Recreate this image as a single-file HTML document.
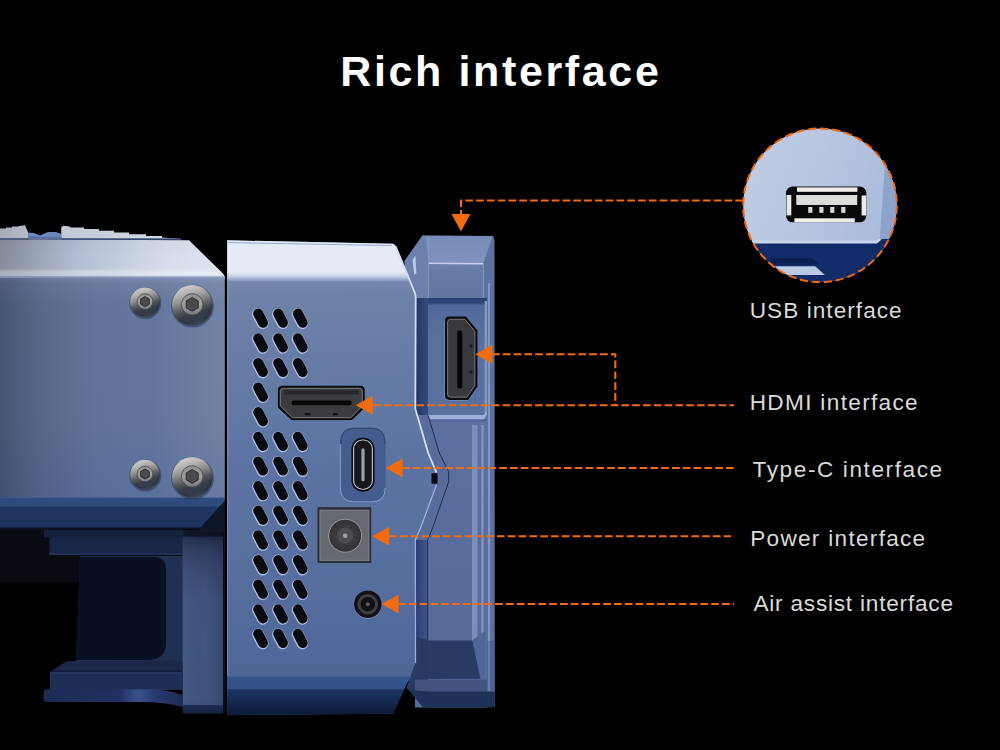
<!DOCTYPE html>
<html lang="en">
<head>
<meta charset="utf-8">
<title>Rich interface</title>
<style>
html,body{margin:0;padding:0;background:#000;}
body{width:1000px;height:750px;overflow:hidden;font-family:"Liberation Sans",sans-serif;}
svg{display:block;}
</style>
</head>
<body>
<svg width="1000" height="750" viewBox="0 0 1000 750">
<defs>
<linearGradient id="gAtopH" gradientUnits="userSpaceOnUse" x1="0" y1="0" x2="224" y2="0">
  <stop offset="0.0000" stop-color="#848b9d"/>
  <stop offset="0.0893" stop-color="#9098ab"/>
  <stop offset="0.1786" stop-color="#9da5b9"/>
  <stop offset="0.3571" stop-color="#b5bfd4"/>
  <stop offset="0.5804" stop-color="#c8d1e3"/>
  <stop offset="0.7589" stop-color="#d6deed"/>
  <stop offset="1.0000" stop-color="#dde4f1"/>
</linearGradient>
<linearGradient id="gAtop" gradientUnits="userSpaceOnUse" x1="0" y1="239" x2="0" y2="278">
  <stop offset="0.0000" stop-color="#000000" stop-opacity="0.03"/>
  <stop offset="0.7436" stop-color="#ffffff" stop-opacity="0.0"/>
  <stop offset="0.8462" stop-color="#ffffff" stop-opacity="0.3"/>
  <stop offset="0.9308" stop-color="#ffffff" stop-opacity="0.3"/>
  <stop offset="0.9564" stop-color="#8797b8" stop-opacity="0.5"/>
  <stop offset="1.0000" stop-color="#7888ad" stop-opacity="1"/>
</linearGradient>
<linearGradient id="gRidgeH" gradientUnits="userSpaceOnUse" x1="0" y1="0" x2="180" y2="0">
  <stop offset="0.0000" stop-color="#a6abb7"/>
  <stop offset="0.1556" stop-color="#b6bbc7"/>
  <stop offset="0.3389" stop-color="#c2c8d5"/>
  <stop offset="0.6667" stop-color="#cbd1dd"/>
  <stop offset="1.0000" stop-color="#d8deea"/>
</linearGradient>
<linearGradient id="gA" gradientUnits="userSpaceOnUse" x1="0" y1="276" x2="0" y2="498">
  <stop offset="0.0000" stop-color="#8a99ba"/>
  <stop offset="0.0135" stop-color="#7888ad"/>
  <stop offset="0.0360" stop-color="#6b7ea4"/>
  <stop offset="0.1306" stop-color="#63779d"/>
  <stop offset="0.6486" stop-color="#62769c"/>
  <stop offset="1.0000" stop-color="#5a6f9a"/>
</linearGradient>
<linearGradient id="gAshade" gradientUnits="userSpaceOnUse" x1="0" y1="0" x2="224" y2="0">
  <stop offset="0.0000" stop-color="#0a1020" stop-opacity="0.32"/>
  <stop offset="0.2009" stop-color="#0a1020" stop-opacity="0.13"/>
  <stop offset="0.4241" stop-color="#0a1020" stop-opacity="0.03"/>
  <stop offset="0.6027" stop-color="#0a1020" stop-opacity="0"/>
  <stop offset="0.6696" stop-color="#ffffff" stop-opacity="0"/>
  <stop offset="1.0000" stop-color="#ffffff" stop-opacity="0.09"/>
</linearGradient>
<linearGradient id="gAbev" gradientUnits="userSpaceOnUse" x1="0" y1="497" x2="0" y2="530">
  <stop offset="0.0000" stop-color="#48618f"/>
  <stop offset="0.0364" stop-color="#2f4c80"/>
  <stop offset="0.2727" stop-color="#2d4a7c"/>
  <stop offset="0.3091" stop-color="#203663"/>
  <stop offset="0.9091" stop-color="#1e335d"/>
  <stop offset="0.9394" stop-color="#0b1324"/>
  <stop offset="1.0000" stop-color="#091020"/>
</linearGradient>
<linearGradient id="gBtop" gradientUnits="userSpaceOnUse" x1="0" y1="240" x2="0" y2="281">
  <stop offset="0.0000" stop-color="#dfe4f1"/>
  <stop offset="0.0976" stop-color="#e6eaf4"/>
  <stop offset="0.7805" stop-color="#e6eaf4"/>
  <stop offset="0.8780" stop-color="#c9d2e6"/>
  <stop offset="1.0000" stop-color="#8597be"/>
</linearGradient>
<linearGradient id="gB" gradientUnits="userSpaceOnUse" x1="0" y1="241" x2="0" y2="715">
  <stop offset="0.0802" stop-color="#7b8eb4"/>
  <stop offset="0.0886" stop-color="#7186ac"/>
  <stop offset="0.1139" stop-color="#6b80a6"/>
  <stop offset="0.2300" stop-color="#667ba5"/>
  <stop offset="0.3776" stop-color="#5f77a4"/>
  <stop offset="0.4831" stop-color="#5b72a2"/>
  <stop offset="0.6414" stop-color="#5870a0"/>
  <stop offset="0.7574" stop-color="#556c9d"/>
  <stop offset="0.8629" stop-color="#50689a"/>
  <stop offset="0.9198" stop-color="#4f6595"/>
</linearGradient>
<linearGradient id="gBshade" gradientUnits="userSpaceOnUse" x1="227" y1="290" x2="370" y2="520"><stop offset="0" stop-color="#fff" stop-opacity="0.02"/><stop offset="0.5" stop-color="#fff" stop-opacity="0.01"/><stop offset="1" stop-color="#fff" stop-opacity="0"/></linearGradient>
<linearGradient id="gBbev" gradientUnits="userSpaceOnUse" x1="0" y1="676" x2="0" y2="715">
  <stop offset="0.0000" stop-color="#4b6396"/>
  <stop offset="0.0385" stop-color="#32548b"/>
  <stop offset="0.3205" stop-color="#305289"/>
  <stop offset="0.3538" stop-color="#1c3463"/>
  <stop offset="0.6154" stop-color="#162a52"/>
  <stop offset="0.9615" stop-color="#0e1b3a"/>
</linearGradient>
<linearGradient id="gCtop" gradientUnits="userSpaceOnUse" x1="0" y1="236" x2="0" y2="263">
  <stop offset="0.0000" stop-color="#788cb8"/>
  <stop offset="1.0000" stop-color="#7f93be"/>
</linearGradient>
<linearGradient id="gCfront" gradientUnits="userSpaceOnUse" x1="0" y1="263" x2="0" y2="298">
  <stop offset="0.0000" stop-color="#7084ad"/>
  <stop offset="0.2000" stop-color="#677ca4"/>
  <stop offset="1.0000" stop-color="#62779f"/>
</linearGradient>
<linearGradient id="gCrec" gradientUnits="userSpaceOnUse" x1="0" y1="298" x2="0" y2="415">
  <stop offset="0.0000" stop-color="#2a3f73"/>
  <stop offset="0.0427" stop-color="#2f4578"/>
  <stop offset="0.0641" stop-color="#52689a"/>
  <stop offset="0.3590" stop-color="#5a70a0"/>
  <stop offset="1.0000" stop-color="#5a70a0"/>
</linearGradient>
<linearGradient id="gClow" gradientUnits="userSpaceOnUse" x1="0" y1="419" x2="0" y2="641">
  <stop offset="0.0000" stop-color="#4a6095"/>
  <stop offset="0.0158" stop-color="#5c719f"/>
  <stop offset="0.4550" stop-color="#586d9b"/>
  <stop offset="1.0000" stop-color="#566b99"/>
</linearGradient>
<linearGradient id="gCshadow" gradientUnits="userSpaceOnUse" x1="415" y1="0" x2="428" y2="0">
  <stop offset="0.0000" stop-color="#2a3d70"/>
  <stop offset="0.4615" stop-color="#34497e"/>
  <stop offset="1.0000" stop-color="#42588d"/>
</linearGradient>
<linearGradient id="gCshadowU" gradientUnits="userSpaceOnUse" x1="416" y1="0" x2="428" y2="0">
  <stop offset="0.0000" stop-color="#253868"/>
  <stop offset="0.5833" stop-color="#2e4273"/>
  <stop offset="1.0000" stop-color="#364b7e"/>
</linearGradient>
<linearGradient id="gPillar" gradientUnits="userSpaceOnUse" x1="0" y1="530" x2="0" y2="714">
  <stop offset="0.0000" stop-color="#0b1120"/>
  <stop offset="0.0326" stop-color="#0d1424"/>
  <stop offset="0.0408" stop-color="#212d4b"/>
  <stop offset="0.1033" stop-color="#2e3d60"/>
  <stop offset="0.2065" stop-color="#384970"/>
  <stop offset="0.3804" stop-color="#3f547d"/>
  <stop offset="0.9239" stop-color="#3f5580"/>
  <stop offset="0.9484" stop-color="#3d527c"/>
  <stop offset="0.9538" stop-color="#1c2c50"/>
  <stop offset="0.9946" stop-color="#16233f"/>
</linearGradient>
<linearGradient id="gPillarH" gradientUnits="userSpaceOnUse" x1="183" y1="0" x2="223" y2="0">
  <stop offset="0.0000" stop-color="#ffffff" stop-opacity="0.03"/>
  <stop offset="0.5500" stop-color="#000000" stop-opacity="0"/>
  <stop offset="1.0000" stop-color="#000000" stop-opacity="0.14"/>
</linearGradient>
<linearGradient id="gBack" gradientUnits="userSpaceOnUse" x1="0" y1="529" x2="0" y2="584">
  <stop offset="0.0000" stop-color="#0a0c13"/>
  <stop offset="0.9455" stop-color="#090b11"/>
  <stop offset="1.0000" stop-color="#000000"/>
</linearGradient>
<linearGradient id="gLip" gradientUnits="userSpaceOnUse" x1="44" y1="0" x2="182" y2="0">
  <stop offset="0.0000" stop-color="#1b2b55"/>
  <stop offset="0.5507" stop-color="#203262"/>
  <stop offset="0.6812" stop-color="#3a528c"/>
  <stop offset="0.8043" stop-color="#263a6c"/>
  <stop offset="1.0000" stop-color="#1c2c54"/>
</linearGradient>
  <linearGradient id="gScrewV" x1="0.3" y1="0" x2="0.62" y2="1">
    <stop offset="0" stop-color="#d2d2d0"/>
    <stop offset="0.2" stop-color="#b4b4b2"/>
    <stop offset="0.4" stop-color="#8a8a89"/>
    <stop offset="0.58" stop-color="#55575c"/>
    <stop offset="0.72" stop-color="#383d48"/>
    <stop offset="0.88" stop-color="#333b4c"/>
    <stop offset="1" stop-color="#55617a"/>
  </linearGradient>
  <radialGradient id="gScrewR" cx="0.45" cy="0.4" r="0.62">
    <stop offset="0.8" stop-color="#1a1c22" stop-opacity="0"/>
    <stop offset="1" stop-color="#1a1c22" stop-opacity="0.5"/>
  </radialGradient>
  <linearGradient id="gRing" x1="0" y1="0" x2="0" y2="1">
    <stop offset="0" stop-color="#8f8f8d"/>
    <stop offset="0.5" stop-color="#a2a2a0"/>
    <stop offset="1" stop-color="#77787a"/>
  </linearGradient>
  <radialGradient id="gPow" cx="0.5" cy="0.5" r="0.5">
    <stop offset="0" stop-color="#55575b"/>
    <stop offset="0.5" stop-color="#3b3c40"/>
    <stop offset="1" stop-color="#313236"/>
  </radialGradient>
  <linearGradient id="gUsbBg" x1="0" y1="0" x2="1" y2="0.4">
    <stop offset="0" stop-color="#c2cee5"/>
    <stop offset="0.5" stop-color="#b8c6e0"/>
    <stop offset="1" stop-color="#a9bbdc"/>
  </linearGradient>
  <clipPath id="clipCircle"><circle cx="820" cy="205.3" r="76.8"/></clipPath>
</defs>
<rect width="1000" height="750" fill="#000"/>

<!-- ===== under section A ===== -->
<rect x="0" y="528" width="183" height="55" fill="url(#gBack)"/>
<polygon points="80,556 183,556 183,662 76,662" fill="#212f52"/>
<path d="M80,557 H154 Q166,557 166,569 V642 Q166.7,660 147,660 H76 Z" fill="#0a1024"/>
<rect x="44" y="529.6" width="139" height="8" fill="#14213d"/>
<rect x="49.5" y="537.4" width="133.5" height="17.6" fill="#182747"/>
<rect x="49.5" y="553" width="133.5" height="2" fill="#1c3058"/>
<polygon points="68,661 182.5,660.5 182.5,672 50,672 63.6,663" fill="#1b2848"/>
<rect x="50" y="671.5" width="132.5" height="18.5" fill="#1f2e55"/>
<rect x="50" y="672.6" width="132.5" height="1" fill="#2c3f6c"/>
<rect x="50" y="670.5" width="132.5" height="1.2" fill="#0f1830"/>
<path d="M46,689.3 H150 Q170,690 182.5,695 V707 Q165,702 140,702 H47 Q43.6,702 43.6,698.5 V691.5 Q43.6,689.3 46,689.3 Z" fill="url(#gLip)"/>
<rect x="182.6" y="530" width="40.6" height="183.5" fill="url(#gPillar)"/>
<rect x="182.6" y="530" width="40.6" height="175" fill="url(#gPillarH)"/>
<rect x="223.2" y="530" width="2" height="183" fill="#0a0f1c"/>

<!-- ===== section A ===== -->
<polygon points="0,228.6 6,228.6 6,227.5 12,227.5 12,226.5 19,226.5 19,226 25,225.2 28,232 28.4,238.6 0,238.6" fill="url(#gRidgeH)"/>
<polygon points="61.2,238.6 61.2,227.5 63,225.8 70,226.5 70,227.5 84,227.5 84,229 99,229 99,230.8 114,230.8 114,232.5 129,232.5 129,234.2 146,234.2 146,236 162,236 162,237.4 180,238.8" fill="url(#gRidgeH)"/>
<polygon points="28,232.5 34,233 40,235.5 48,232 56,232 61.2,234 61.2,239 28.4,239" fill="#6f88bd"/>
<polygon points="30,236 44,237 61.2,236.5 61.2,239.5 29,239.5" fill="#5a70a2"/>
<rect x="0" y="276" width="224.8" height="222.5" fill="url(#gA)"/>
<rect x="0" y="276" width="224.8" height="222.5" fill="url(#gAshade)"/>
<path d="M0,239.3 L189,240.3 L221.5,272 Q224.6,274.5 224.8,278 L0,278 Z" fill="url(#gAtopH)"/>
<path d="M0,239.3 L189,240.3 L221.5,272 Q224.6,274.5 224.8,278 L0,278 Z" fill="url(#gAtop)"/>
<rect x="61" y="238.4" width="120" height="1.3" fill="#4a6297"/>
<rect x="0" y="238.4" width="28" height="1.3" fill="#4f5f88"/>
<polygon points="0,497.5 224.8,497.5 224.8,501 199.2,529.5 0,529.5" fill="url(#gAbev)"/>
<polygon points="224.8,501 224.8,532 198,532 199.2,529.5" fill="#0e1629"/>
<!-- screws -->
<g>
  <circle cx="145.3" cy="303.2" r="16.0" fill="#27344f" opacity="0.55"/>
  <circle cx="145" cy="302.2" r="14.8" fill="url(#gScrewV)"/>
  <circle cx="145" cy="302.2" r="14.8" fill="url(#gScrewR)"/>
  <circle cx="145" cy="301.608" r="7.84" fill="url(#gRing)" stroke="#44464a" stroke-width="0.8"/>
  <polygon points="149.3,304.1 145.0,306.6 140.7,304.1 140.7,299.1 145.0,296.6 149.3,299.1" fill="#4b4b4d" stroke="#2a2b2e" stroke-width="1"/>
</g>
<g>
  <circle cx="192.5" cy="306.2" r="21.4" fill="#27344f" opacity="0.55"/>
  <circle cx="192.2" cy="305.2" r="20.2" fill="url(#gScrewV)"/>
  <circle cx="192.2" cy="305.2" r="20.2" fill="url(#gScrewR)"/>
  <circle cx="192.2" cy="304.392" r="10.71" fill="url(#gRing)" stroke="#44464a" stroke-width="0.8"/>
  <polygon points="198.2,307.8 192.2,311.3 186.2,307.8 186.2,300.9 192.2,297.5 198.2,300.9" fill="#4b4b4d" stroke="#2a2b2e" stroke-width="1"/>
</g>
<g>
  <circle cx="145.3" cy="475.6" r="16.0" fill="#27344f" opacity="0.55"/>
  <circle cx="145" cy="474.6" r="14.8" fill="url(#gScrewV)"/>
  <circle cx="145" cy="474.6" r="14.8" fill="url(#gScrewR)"/>
  <circle cx="145" cy="474.00800000000004" r="7.84" fill="url(#gRing)" stroke="#44464a" stroke-width="0.8"/>
  <polygon points="149.3,476.5 145.0,479.0 140.7,476.5 140.7,471.5 145.0,469.0 149.3,471.5" fill="#4b4b4d" stroke="#2a2b2e" stroke-width="1"/>
</g>
<g>
  <circle cx="192.5" cy="478.2" r="21.4" fill="#27344f" opacity="0.55"/>
  <circle cx="192.2" cy="477.2" r="20.2" fill="url(#gScrewV)"/>
  <circle cx="192.2" cy="477.2" r="20.2" fill="url(#gScrewR)"/>
  <circle cx="192.2" cy="476.392" r="10.71" fill="url(#gRing)" stroke="#44464a" stroke-width="0.8"/>
  <polygon points="198.2,479.8 192.2,483.3 186.2,479.8 186.2,472.9 192.2,469.5 198.2,472.9" fill="#4b4b4d" stroke="#2a2b2e" stroke-width="1"/>
</g>

<!-- ===== section C ===== -->
<!-- base fill -->
<polygon points="404.5,261 422.7,235.3 493,236 494.3,240 494.5,707 422.5,706.7 410,689 405,660" fill="#5b72a0"/>
<!-- left bevel -->
<polygon points="422.7,235.3 427.5,237 428.5,300 412,300 404.5,261" fill="#6b80ad"/>
<polygon points="412.6,260 415.4,255.5 416.4,273 414.2,275" fill="#cbd6ee" opacity="0.85"/>
<!-- top bevel -->
<polygon points="425.4,236 493,236 483.5,263.2 428.8,262.6" fill="url(#gCtop)"/>
<!-- front face of upper block -->
<rect x="428.5" y="263" width="55" height="35.5" fill="url(#gCfront)"/>
<line x1="428.8" y1="263.3" x2="483.5" y2="263.7" stroke="#c5d0e8" stroke-width="1.6"/>
<line x1="428.3" y1="237" x2="428.3" y2="298" stroke="#8c9fc8" stroke-width="0.8"/>
<!-- right bevel -->
<polygon points="493,236 494.3,240 494.5,707 487,707 487,300 483.5,298 483.5,263.2" fill="#5c719e"/>
<line x1="483.6" y1="264" x2="483.6" y2="298" stroke="#8c9fc8" stroke-width="0.8"/>
<!-- recessed face -->
<rect x="415" y="298" width="72" height="117" fill="url(#gCrec)"/>
<rect x="415" y="298" width="13" height="117" fill="url(#gCshadowU)"/>
<rect x="484.6" y="301" width="2.4" height="112" fill="#8397c0"/>
<!-- seam -->
<polygon points="428,415 483.5,415 486.5,411.5 487,414 484,419.5 428,419.5" fill="#9db0d8"/>
<!-- lower C -->
<rect x="415" y="419.5" width="72" height="288" fill="url(#gClow)"/>
<polygon points="415,415 428.2,415.4 439.3,453 448.7,471.6 448.7,481.5 432.6,528 427.6,540 427.6,707 415,707" fill="#576c9a"/>
<rect x="415.5" y="540" width="12" height="100" fill="url(#gCshadow)"/>
<polyline points="428.2,415.4 439.3,453 448.7,471.6 448.7,481.5 432.6,528 427.6,540 427.6,640" fill="none" stroke="#1b2740" stroke-width="0.9"/>
<rect x="472" y="425" width="5.5" height="216" fill="#7a8fba"/>
<rect x="481.3" y="425" width="2.3" height="216" fill="#8195c0"/>
<rect x="488" y="283" width="2" height="420" fill="#8296c2"/>
<!-- dark trapezoid -->
<polygon points="472.4,640 485,631 485,674 480.4,678.8" fill="#4f6798"/>
<polygon points="415,637 428.2,640.6 472.4,640.6 480.4,678.8 415,679" fill="#273b63"/>
<polygon points="415,637 428,640.6 428,692 410,692 406.5,688 415,663" fill="#263a62"/>
<rect x="415" y="679.6" width="79.5" height="12.2" fill="#40547f"/>
<polygon points="408.4,690 428,691.6 494.6,691.6 494.6,707.2 422.8,707.2" fill="#1e3158"/>
<rect x="487" y="641" width="7.5" height="50.6" fill="#4d6293"/>
<rect x="488" y="641" width="2" height="50" fill="#6a7fad"/>
<!-- vertical hdmi on C -->
<path d="M449.5,316.6 H465.8 L477.4,330.4 V386.6 L468,399.9 H449.5 Q445,399.9 445,395.5 V321 Q445,316.6 449.5,316.6 Z" fill="#8da2cc" opacity="0.6" transform="translate(-0.7,0.8)"/>
<path d="M449.5,316.6 H465.8 L477.4,330.4 V386.6 L468,399.9 H449.5 Q445,399.9 445,395.5 V321 Q445,316.6 449.5,316.6 Z" fill="#0b0c0f"/>
<path d="M450.5,319.3 H464.8 L474.8,331.3 V385.6 L466.8,397.2 H450.5 Q447.6,397.2 447.6,394.3 V322.2 Q447.6,319.3 450.5,319.3 Z" fill="#37393d" stroke="#808285" stroke-width="0.9"/>
<rect x="457.3" y="330.5" width="5" height="58" rx="2" fill="#050608"/>
<circle cx="471" cy="346" r="1.6" fill="#15161a"/>
<circle cx="471" cy="372" r="1.6" fill="#15161a"/>

<!-- ===== section B ===== -->
<path d="M227.2,240.3 L392.5,243.7 Q394.5,244 395.5,246 L414.5,292 Q415.7,295 415.7,298 L415.3,408.7 L428.2,453 L436.5,472.7 L436.5,484.8 L420.5,528 L415.3,540 L415.5,663 L393,713.7 L227.2,715 Z" fill="url(#gB)"/>
<path d="M227.2,279 L409.5,279 L414.5,292 Q415.7,295 415.7,298 L415.3,408.7 L428.2,453 L436.5,472.7 L436.5,484.8 L420.5,528 L415.3,540 L415.5,663 L410,677 L227.2,677 Z" fill="url(#gBshade)"/>
<path d="M227.2,240.3 L392.5,243.7 Q394.5,244 395.5,246 L411,281 L227.2,281 Z" fill="url(#gBtop)"/>
<line x1="228" y1="242.6" x2="392" y2="245.6" stroke="#8fa3cf" stroke-width="0.9"/>
<polygon points="227.2,676 410.5,676 393,713.7 227.2,715" fill="url(#gBbev)"/>
<path d="M395.5,246 L414.5,292 Q415.7,295 415.7,298 L415.3,408.7 L428.2,453 L436.5,472.7" fill="none" stroke="#d4def4" stroke-width="1.8"/>
<polyline points="436.5,484.8 420.5,528 415.3,540 415.5,663" fill="none" stroke="#a9bde6" stroke-width="1.3" stroke-opacity="0.85"/>
<line x1="227.7" y1="280" x2="227.7" y2="676" stroke="#a9bbe0" stroke-width="0.8" stroke-opacity="0.7"/>
<rect x="431.5" y="473.2" width="6" height="10.6" rx="1" fill="#06080c"/>
<g transform="translate(260.6,318.2)"><line x1="-2.4" y1="-4.6" x2="2.4" y2="4.6" stroke="#c3d0ec" stroke-opacity="0.85" stroke-width="11.6" stroke-linecap="round" transform="translate(-0.3,0.5)"/><line x1="-2.4" y1="-4.6" x2="2.4" y2="4.6" stroke="#0a0b10" stroke-width="10" stroke-linecap="round"/></g>
<g transform="translate(280.6,318.2)"><line x1="-2.4" y1="-4.6" x2="2.4" y2="4.6" stroke="#c3d0ec" stroke-opacity="0.85" stroke-width="11.6" stroke-linecap="round" transform="translate(-0.3,0.5)"/><line x1="-2.4" y1="-4.6" x2="2.4" y2="4.6" stroke="#0a0b10" stroke-width="10" stroke-linecap="round"/></g>
<g transform="translate(300.3,318.2)"><line x1="-2.4" y1="-4.6" x2="2.4" y2="4.6" stroke="#c3d0ec" stroke-opacity="0.85" stroke-width="11.6" stroke-linecap="round" transform="translate(-0.3,0.5)"/><line x1="-2.4" y1="-4.6" x2="2.4" y2="4.6" stroke="#0a0b10" stroke-width="10" stroke-linecap="round"/></g>
<g transform="translate(260.6,342.8)"><line x1="-2.4" y1="-4.6" x2="2.4" y2="4.6" stroke="#c3d0ec" stroke-opacity="0.85" stroke-width="11.6" stroke-linecap="round" transform="translate(-0.3,0.5)"/><line x1="-2.4" y1="-4.6" x2="2.4" y2="4.6" stroke="#0a0b10" stroke-width="10" stroke-linecap="round"/></g>
<g transform="translate(280.6,342.8)"><line x1="-2.4" y1="-4.6" x2="2.4" y2="4.6" stroke="#c3d0ec" stroke-opacity="0.85" stroke-width="11.6" stroke-linecap="round" transform="translate(-0.3,0.5)"/><line x1="-2.4" y1="-4.6" x2="2.4" y2="4.6" stroke="#0a0b10" stroke-width="10" stroke-linecap="round"/></g>
<g transform="translate(300.3,342.8)"><line x1="-2.4" y1="-4.6" x2="2.4" y2="4.6" stroke="#c3d0ec" stroke-opacity="0.85" stroke-width="11.6" stroke-linecap="round" transform="translate(-0.3,0.5)"/><line x1="-2.4" y1="-4.6" x2="2.4" y2="4.6" stroke="#0a0b10" stroke-width="10" stroke-linecap="round"/></g>
<g transform="translate(260.6,367.5)"><line x1="-2.4" y1="-4.6" x2="2.4" y2="4.6" stroke="#c3d0ec" stroke-opacity="0.85" stroke-width="11.6" stroke-linecap="round" transform="translate(-0.3,0.5)"/><line x1="-2.4" y1="-4.6" x2="2.4" y2="4.6" stroke="#0a0b10" stroke-width="10" stroke-linecap="round"/></g>
<g transform="translate(280.6,367.5)"><line x1="-2.4" y1="-4.6" x2="2.4" y2="4.6" stroke="#c3d0ec" stroke-opacity="0.85" stroke-width="11.6" stroke-linecap="round" transform="translate(-0.3,0.5)"/><line x1="-2.4" y1="-4.6" x2="2.4" y2="4.6" stroke="#0a0b10" stroke-width="10" stroke-linecap="round"/></g>
<g transform="translate(300.3,367.5)"><line x1="-2.4" y1="-4.6" x2="2.4" y2="4.6" stroke="#c3d0ec" stroke-opacity="0.85" stroke-width="11.6" stroke-linecap="round" transform="translate(-0.3,0.5)"/><line x1="-2.4" y1="-4.6" x2="2.4" y2="4.6" stroke="#0a0b10" stroke-width="10" stroke-linecap="round"/></g>
<g transform="translate(260.6,392.1)"><line x1="-2.4" y1="-4.6" x2="2.4" y2="4.6" stroke="#c3d0ec" stroke-opacity="0.85" stroke-width="11.6" stroke-linecap="round" transform="translate(-0.3,0.5)"/><line x1="-2.4" y1="-4.6" x2="2.4" y2="4.6" stroke="#0a0b10" stroke-width="10" stroke-linecap="round"/></g>
<g transform="translate(260.6,416.7)"><line x1="-2.4" y1="-4.6" x2="2.4" y2="4.6" stroke="#c3d0ec" stroke-opacity="0.85" stroke-width="11.6" stroke-linecap="round" transform="translate(-0.3,0.5)"/><line x1="-2.4" y1="-4.6" x2="2.4" y2="4.6" stroke="#0a0b10" stroke-width="10" stroke-linecap="round"/></g>
<g transform="translate(260.6,441.3)"><line x1="-2.4" y1="-4.6" x2="2.4" y2="4.6" stroke="#c3d0ec" stroke-opacity="0.85" stroke-width="11.6" stroke-linecap="round" transform="translate(-0.3,0.5)"/><line x1="-2.4" y1="-4.6" x2="2.4" y2="4.6" stroke="#0a0b10" stroke-width="10" stroke-linecap="round"/></g>
<g transform="translate(280.6,441.3)"><line x1="-2.4" y1="-4.6" x2="2.4" y2="4.6" stroke="#c3d0ec" stroke-opacity="0.85" stroke-width="11.6" stroke-linecap="round" transform="translate(-0.3,0.5)"/><line x1="-2.4" y1="-4.6" x2="2.4" y2="4.6" stroke="#0a0b10" stroke-width="10" stroke-linecap="round"/></g>
<g transform="translate(300.3,441.3)"><line x1="-2.4" y1="-4.6" x2="2.4" y2="4.6" stroke="#c3d0ec" stroke-opacity="0.85" stroke-width="11.6" stroke-linecap="round" transform="translate(-0.3,0.5)"/><line x1="-2.4" y1="-4.6" x2="2.4" y2="4.6" stroke="#0a0b10" stroke-width="10" stroke-linecap="round"/></g>
<g transform="translate(260.6,466.0)"><line x1="-2.4" y1="-4.6" x2="2.4" y2="4.6" stroke="#c3d0ec" stroke-opacity="0.85" stroke-width="11.6" stroke-linecap="round" transform="translate(-0.3,0.5)"/><line x1="-2.4" y1="-4.6" x2="2.4" y2="4.6" stroke="#0a0b10" stroke-width="10" stroke-linecap="round"/></g>
<g transform="translate(280.6,466.0)"><line x1="-2.4" y1="-4.6" x2="2.4" y2="4.6" stroke="#c3d0ec" stroke-opacity="0.85" stroke-width="11.6" stroke-linecap="round" transform="translate(-0.3,0.5)"/><line x1="-2.4" y1="-4.6" x2="2.4" y2="4.6" stroke="#0a0b10" stroke-width="10" stroke-linecap="round"/></g>
<g transform="translate(300.3,466.0)"><line x1="-2.4" y1="-4.6" x2="2.4" y2="4.6" stroke="#c3d0ec" stroke-opacity="0.85" stroke-width="11.6" stroke-linecap="round" transform="translate(-0.3,0.5)"/><line x1="-2.4" y1="-4.6" x2="2.4" y2="4.6" stroke="#0a0b10" stroke-width="10" stroke-linecap="round"/></g>
<g transform="translate(260.6,490.6)"><line x1="-2.4" y1="-4.6" x2="2.4" y2="4.6" stroke="#c3d0ec" stroke-opacity="0.85" stroke-width="11.6" stroke-linecap="round" transform="translate(-0.3,0.5)"/><line x1="-2.4" y1="-4.6" x2="2.4" y2="4.6" stroke="#0a0b10" stroke-width="10" stroke-linecap="round"/></g>
<g transform="translate(280.6,490.6)"><line x1="-2.4" y1="-4.6" x2="2.4" y2="4.6" stroke="#c3d0ec" stroke-opacity="0.85" stroke-width="11.6" stroke-linecap="round" transform="translate(-0.3,0.5)"/><line x1="-2.4" y1="-4.6" x2="2.4" y2="4.6" stroke="#0a0b10" stroke-width="10" stroke-linecap="round"/></g>
<g transform="translate(300.3,490.6)"><line x1="-2.4" y1="-4.6" x2="2.4" y2="4.6" stroke="#c3d0ec" stroke-opacity="0.85" stroke-width="11.6" stroke-linecap="round" transform="translate(-0.3,0.5)"/><line x1="-2.4" y1="-4.6" x2="2.4" y2="4.6" stroke="#0a0b10" stroke-width="10" stroke-linecap="round"/></g>
<g transform="translate(260.6,515.2)"><line x1="-2.4" y1="-4.6" x2="2.4" y2="4.6" stroke="#c3d0ec" stroke-opacity="0.85" stroke-width="11.6" stroke-linecap="round" transform="translate(-0.3,0.5)"/><line x1="-2.4" y1="-4.6" x2="2.4" y2="4.6" stroke="#0a0b10" stroke-width="10" stroke-linecap="round"/></g>
<g transform="translate(280.6,515.2)"><line x1="-2.4" y1="-4.6" x2="2.4" y2="4.6" stroke="#c3d0ec" stroke-opacity="0.85" stroke-width="11.6" stroke-linecap="round" transform="translate(-0.3,0.5)"/><line x1="-2.4" y1="-4.6" x2="2.4" y2="4.6" stroke="#0a0b10" stroke-width="10" stroke-linecap="round"/></g>
<g transform="translate(300.3,515.2)"><line x1="-2.4" y1="-4.6" x2="2.4" y2="4.6" stroke="#c3d0ec" stroke-opacity="0.85" stroke-width="11.6" stroke-linecap="round" transform="translate(-0.3,0.5)"/><line x1="-2.4" y1="-4.6" x2="2.4" y2="4.6" stroke="#0a0b10" stroke-width="10" stroke-linecap="round"/></g>
<g transform="translate(260.6,539.9)"><line x1="-2.4" y1="-4.6" x2="2.4" y2="4.6" stroke="#c3d0ec" stroke-opacity="0.85" stroke-width="11.6" stroke-linecap="round" transform="translate(-0.3,0.5)"/><line x1="-2.4" y1="-4.6" x2="2.4" y2="4.6" stroke="#0a0b10" stroke-width="10" stroke-linecap="round"/></g>
<g transform="translate(280.6,539.9)"><line x1="-2.4" y1="-4.6" x2="2.4" y2="4.6" stroke="#c3d0ec" stroke-opacity="0.85" stroke-width="11.6" stroke-linecap="round" transform="translate(-0.3,0.5)"/><line x1="-2.4" y1="-4.6" x2="2.4" y2="4.6" stroke="#0a0b10" stroke-width="10" stroke-linecap="round"/></g>
<g transform="translate(300.3,539.9)"><line x1="-2.4" y1="-4.6" x2="2.4" y2="4.6" stroke="#c3d0ec" stroke-opacity="0.85" stroke-width="11.6" stroke-linecap="round" transform="translate(-0.3,0.5)"/><line x1="-2.4" y1="-4.6" x2="2.4" y2="4.6" stroke="#0a0b10" stroke-width="10" stroke-linecap="round"/></g>
<g transform="translate(260.6,564.5)"><line x1="-2.4" y1="-4.6" x2="2.4" y2="4.6" stroke="#c3d0ec" stroke-opacity="0.85" stroke-width="11.6" stroke-linecap="round" transform="translate(-0.3,0.5)"/><line x1="-2.4" y1="-4.6" x2="2.4" y2="4.6" stroke="#0a0b10" stroke-width="10" stroke-linecap="round"/></g>
<g transform="translate(280.6,564.5)"><line x1="-2.4" y1="-4.6" x2="2.4" y2="4.6" stroke="#c3d0ec" stroke-opacity="0.85" stroke-width="11.6" stroke-linecap="round" transform="translate(-0.3,0.5)"/><line x1="-2.4" y1="-4.6" x2="2.4" y2="4.6" stroke="#0a0b10" stroke-width="10" stroke-linecap="round"/></g>
<g transform="translate(300.3,564.5)"><line x1="-2.4" y1="-4.6" x2="2.4" y2="4.6" stroke="#c3d0ec" stroke-opacity="0.85" stroke-width="11.6" stroke-linecap="round" transform="translate(-0.3,0.5)"/><line x1="-2.4" y1="-4.6" x2="2.4" y2="4.6" stroke="#0a0b10" stroke-width="10" stroke-linecap="round"/></g>
<g transform="translate(260.6,589.1)"><line x1="-2.4" y1="-4.6" x2="2.4" y2="4.6" stroke="#c3d0ec" stroke-opacity="0.85" stroke-width="11.6" stroke-linecap="round" transform="translate(-0.3,0.5)"/><line x1="-2.4" y1="-4.6" x2="2.4" y2="4.6" stroke="#0a0b10" stroke-width="10" stroke-linecap="round"/></g>
<g transform="translate(280.6,589.1)"><line x1="-2.4" y1="-4.6" x2="2.4" y2="4.6" stroke="#c3d0ec" stroke-opacity="0.85" stroke-width="11.6" stroke-linecap="round" transform="translate(-0.3,0.5)"/><line x1="-2.4" y1="-4.6" x2="2.4" y2="4.6" stroke="#0a0b10" stroke-width="10" stroke-linecap="round"/></g>
<g transform="translate(300.3,589.1)"><line x1="-2.4" y1="-4.6" x2="2.4" y2="4.6" stroke="#c3d0ec" stroke-opacity="0.85" stroke-width="11.6" stroke-linecap="round" transform="translate(-0.3,0.5)"/><line x1="-2.4" y1="-4.6" x2="2.4" y2="4.6" stroke="#0a0b10" stroke-width="10" stroke-linecap="round"/></g>
<g transform="translate(260.6,613.8)"><line x1="-2.4" y1="-4.6" x2="2.4" y2="4.6" stroke="#c3d0ec" stroke-opacity="0.85" stroke-width="11.6" stroke-linecap="round" transform="translate(-0.3,0.5)"/><line x1="-2.4" y1="-4.6" x2="2.4" y2="4.6" stroke="#0a0b10" stroke-width="10" stroke-linecap="round"/></g>
<g transform="translate(280.6,613.8)"><line x1="-2.4" y1="-4.6" x2="2.4" y2="4.6" stroke="#c3d0ec" stroke-opacity="0.85" stroke-width="11.6" stroke-linecap="round" transform="translate(-0.3,0.5)"/><line x1="-2.4" y1="-4.6" x2="2.4" y2="4.6" stroke="#0a0b10" stroke-width="10" stroke-linecap="round"/></g>
<g transform="translate(300.3,613.8)"><line x1="-2.4" y1="-4.6" x2="2.4" y2="4.6" stroke="#c3d0ec" stroke-opacity="0.85" stroke-width="11.6" stroke-linecap="round" transform="translate(-0.3,0.5)"/><line x1="-2.4" y1="-4.6" x2="2.4" y2="4.6" stroke="#0a0b10" stroke-width="10" stroke-linecap="round"/></g>
<g transform="translate(260.6,638.4)"><line x1="-2.4" y1="-4.6" x2="2.4" y2="4.6" stroke="#c3d0ec" stroke-opacity="0.85" stroke-width="11.6" stroke-linecap="round" transform="translate(-0.3,0.5)"/><line x1="-2.4" y1="-4.6" x2="2.4" y2="4.6" stroke="#0a0b10" stroke-width="10" stroke-linecap="round"/></g>
<g transform="translate(280.6,638.4)"><line x1="-2.4" y1="-4.6" x2="2.4" y2="4.6" stroke="#c3d0ec" stroke-opacity="0.85" stroke-width="11.6" stroke-linecap="round" transform="translate(-0.3,0.5)"/><line x1="-2.4" y1="-4.6" x2="2.4" y2="4.6" stroke="#0a0b10" stroke-width="10" stroke-linecap="round"/></g>
<g transform="translate(300.3,638.4)"><line x1="-2.4" y1="-4.6" x2="2.4" y2="4.6" stroke="#c3d0ec" stroke-opacity="0.85" stroke-width="11.6" stroke-linecap="round" transform="translate(-0.3,0.5)"/><line x1="-2.4" y1="-4.6" x2="2.4" y2="4.6" stroke="#0a0b10" stroke-width="10" stroke-linecap="round"/></g>
<!-- HDMI on B -->
<path d="M282.3,385.8 H360.3 Q364.8,385.8 364.8,390.3 V406 Q364.8,407.8 363.5,409 L353,419.2 Q352,420.2 350.5,420.2 H293 Q291.5,420.2 290.5,419.2 L279.1,409 Q277.8,407.8 277.8,406 V390.3 Q277.8,385.8 282.3,385.8 Z" fill="#8fa5d0" opacity="0.55" transform="translate(-0.4,0.9)"/>
<path d="M282.3,385.8 H360.3 Q364.8,385.8 364.8,390.3 V406 Q364.8,407.8 363.5,409 L353,419.2 Q352,420.2 350.5,420.2 H293 Q291.5,420.2 290.5,419.2 L279.1,409 Q277.8,407.8 277.8,406 V390.3 Q277.8,385.8 282.3,385.8 Z" fill="#0b0c0f"/>
<path d="M283.3,388.3 H359.3 Q362.3,388.3 362.3,391.3 V406 L351,417.7 H292.5 L280.3,406 V391.3 Q280.3,388.3 283.3,388.3 Z" fill="#3a3c40" stroke="#858688" stroke-width="0.9"/>
<rect x="284" y="390" width="75" height="4.5" fill="#232428" opacity="0.8"/>
<rect x="291.6" y="400.6" width="60" height="4.6" rx="2" fill="#050608"/>
<rect x="304.8" y="413.2" width="5.4" height="2" fill="#0d0e11"/>
<rect x="333" y="413.2" width="5" height="2" fill="#0d0e11"/>
<!-- Type C -->
<rect x="340" y="427.8" width="45.6" height="74.4" rx="14" fill="#465c8e"/>
<path d="M340.6,444 Q340.6,428.4 354,428.4 H371.6 Q385,428.4 385,444" fill="none" stroke="#2e4274" stroke-width="1.2" stroke-opacity="0.8"/>
<path d="M340.4,444 V488 Q340.4,501.8 354,501.8 H372 Q385.2,501.8 385.2,488" fill="none" stroke="#8fa5d0" stroke-width="1" stroke-opacity="0.9"/>
<rect x="351.4" y="437.8" width="23.2" height="53.6" rx="10.5" fill="#0a0b0e"/>
<rect x="353.6" y="440" width="18.8" height="49.2" rx="8.6" fill="#17181c" stroke="#c4c8d0" stroke-width="1.1"/>
<rect x="361.4" y="448.2" width="3.2" height="33" rx="1.5" fill="#9a9ea6"/>
<!-- Power -->
<rect x="317.5" y="507.1" width="53.7" height="55.9" fill="#2b2f38"/>
<rect x="319.3" y="509.6" width="50.2" height="51.5" fill="#666a70"/>
<rect x="320.2" y="510.5" width="48.4" height="49.7" fill="none" stroke="#7d8187" stroke-width="0.7"/>
<circle cx="345.2" cy="535.7" r="16.5" fill="url(#gPow)" stroke="#a0a09e" stroke-width="0.9"/>
<circle cx="345.2" cy="535.7" r="8" fill="#4a4c50"/>
<circle cx="345.2" cy="535.7" r="2.3" fill="#a0a0a0"/>
<!-- Air assist -->
<circle cx="367.8" cy="604.6" r="14.2" fill="#8ea5d0" opacity="0.7"/>
<circle cx="367.8" cy="604.2" r="13.8" fill="#101114"/>
<circle cx="367.8" cy="604.2" r="8.8" fill="none" stroke="#3d3f43" stroke-width="3"/>
<circle cx="367.8" cy="604.2" r="2" fill="#5a5c60"/>

<!-- ===== USB zoom circle ===== -->
<g clip-path="url(#clipCircle)">
  <rect x="740" y="125" width="160" height="160" fill="url(#gUsbBg)"/>
  <polygon points="886,150 900,120 900,290 879.5,242" fill="#8ea3cc"/>
  <polygon points="740,242 876,242 882,239 900,239 900,290 740,290" fill="#122c6a"/>
  <polygon points="740,240.6 876,240.6 880,238.5 881,240 877,243.6 740,243.6" fill="#c9d5ea"/>
  <polygon points="770,258 812,258 819,264.5 774,264.5" fill="#0c1f52"/>
  <polygon points="774.4,266.2 815.2,266.2 824.8,275 784.8,275" fill="#b9c9e6"/>
  <rect x="786" y="186.5" width="80.3" height="35.8" rx="6.5" fill="#0a0a0c"/>
  <rect x="786.5" y="195" width="4.8" height="20.4" fill="#eceae4"/>
  <rect x="861.6" y="195.5" width="4.5" height="20" fill="#eceae4"/>
  <rect x="797" y="187.4" width="60.4" height="4.4" fill="#f0eee8"/>
  <rect x="794.4" y="218.3" width="60.4" height="4" fill="#f0eee8"/>
  <rect x="796.8" y="195.5" width="60" height="9" fill="#dcdcda" stroke="#f0f0ee" stroke-width="0.8"/>
  <rect x="808.2" y="207" width="4.2" height="5.8" fill="#d8d8d6"/>
  <rect x="819.3" y="207" width="4.2" height="5.8" fill="#d8d8d6"/>
  <rect x="830.2" y="207" width="4.2" height="5.8" fill="#d8d8d6"/>
  <rect x="841.2" y="207" width="4.2" height="5.8" fill="#d8d8d6"/>
</g>
<circle cx="820" cy="205.3" r="76.8" fill="none" stroke="#f36b0f" stroke-width="2" stroke-dasharray="8.2 3.85"/>

<!-- ===== dashed lines ===== -->
<g fill="none" stroke="#f36b0f" stroke-width="2.1" stroke-dasharray="7.7 3.1">
  <path d="M743,200.5 H461 V215"/>
  <path d="M492,354.3 H615.3 V405"/>
  <path d="M373,405.2 H734"/>
  <path d="M402,468 H734"/>
  <path d="M389,536.3 H731"/>
  <path d="M398,604 H734"/>
</g>
<polygon points="451.5,214 470.5,214 461,231.5" fill="#f36b0f"/>
<polygon points="475.3,354.3 492.3,344.8 492.3,363.8" fill="#f36b0f"/>
<polygon points="355.8,405.2 372.8,395.7 372.8,414.7" fill="#f36b0f"/>
<polygon points="385.6,467.9 402.6,458.4 402.6,477.4" fill="#f36b0f"/>
<polygon points="372.2,536.3 389.2,526.8 389.2,545.8" fill="#f36b0f"/>
<polygon points="381.6,603.9 398.6,594.4 398.6,613.4" fill="#f36b0f"/>

<!-- ===== text ===== -->
<g font-family="'Liberation Sans', sans-serif">
<text x="340.3" y="85.6" font-size="43" font-weight="bold" fill="#ffffff" textLength="318.5" lengthAdjust="spacing">Rich interface</text>
<g font-size="22.6" fill="#dadada">
<text x="749.7" y="318.2" textLength="152" lengthAdjust="spacing">USB interface</text>
<text x="749.7" y="410.2" textLength="168" lengthAdjust="spacing">HDMI interface</text>
<text x="752.6" y="477" textLength="189.6" lengthAdjust="spacing">Type-C interface</text>
<text x="750.2" y="546" textLength="175" lengthAdjust="spacing">Power interface</text>
<text x="753.4" y="611.2" textLength="199.6" lengthAdjust="spacing">Air assist interface</text>
</g>
</g>
</svg>
</body>
</html>
